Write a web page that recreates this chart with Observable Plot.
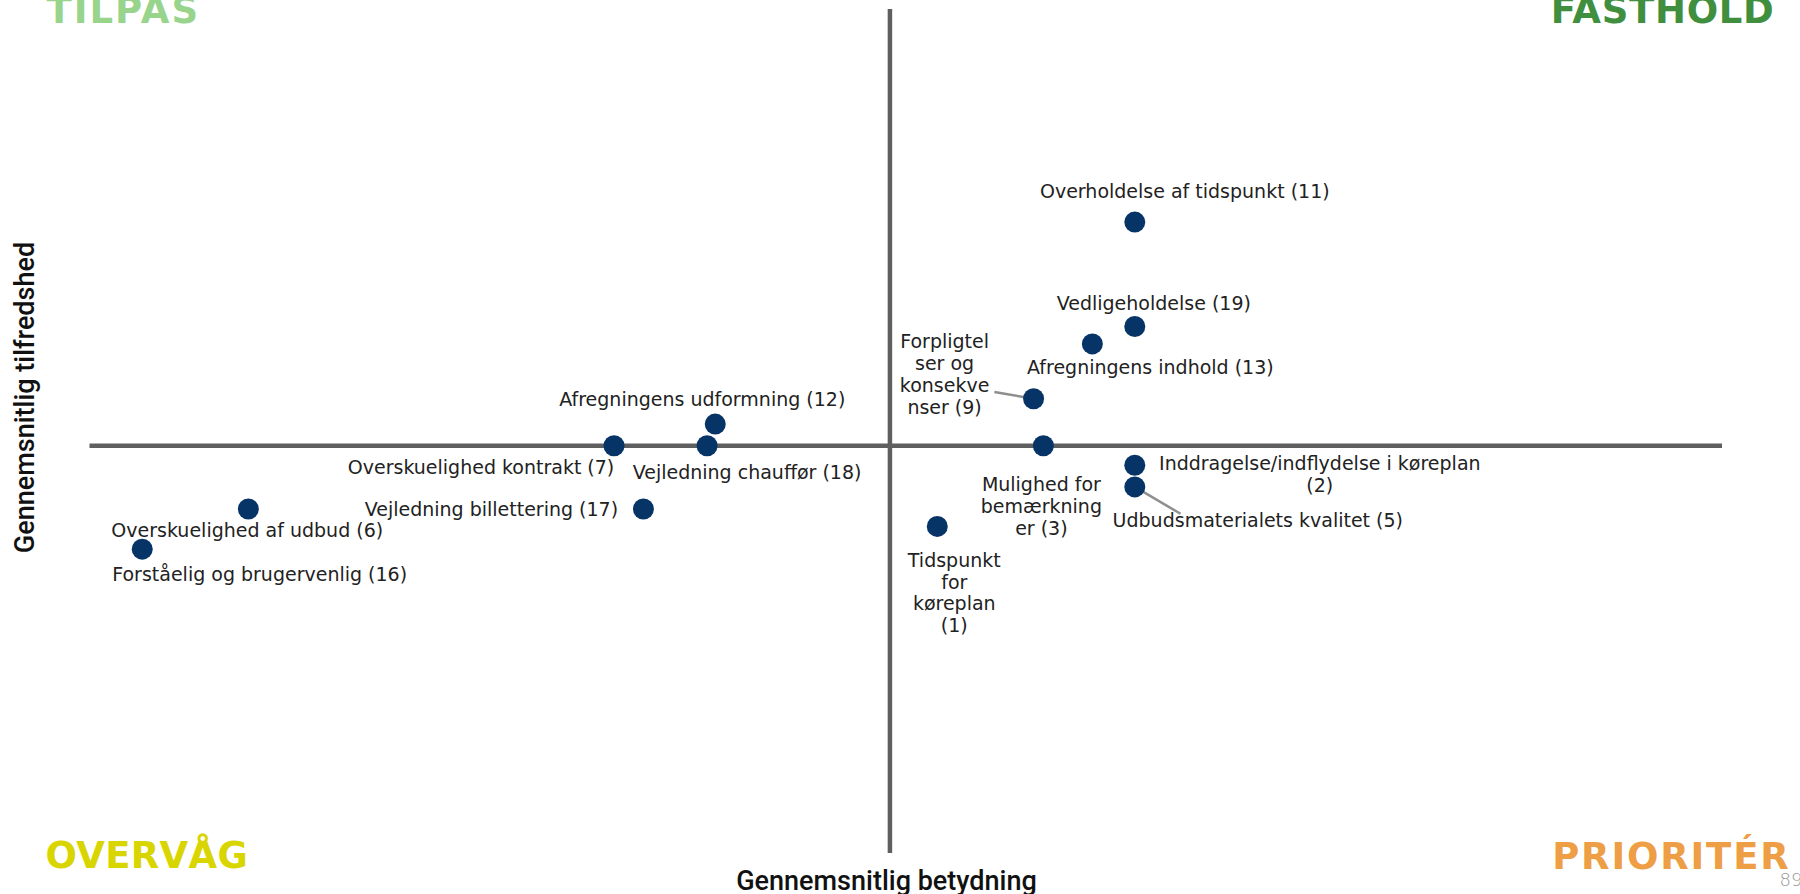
<!DOCTYPE html>
<html><head><meta charset="utf-8">
<script src="https://cdn.jsdelivr.net/npm/d3@7"></script>
<script src="https://cdn.jsdelivr.net/npm/@observablehq/plot@0.6"></script>
<style>html,body{margin:0;padding:0;background:#fff;overflow:hidden}</style>
</head><body><div id="chart"></div>
<script>
// ---- data ----
const ids = [1, 2, 3, 5, 6, 7, 9, 11, 12, 13, 16, 17, 18, 19];
const labels = [
  "Tidspunkt\nfor\nkøreplan\n(1)",
  "Inddragelse/indflydelse i køreplan\n(2)",
  "Mulighed for\nbemærkning\ner (3)",
  "Udbudsmaterialets kvalitet (5)",
  "Overskuelighed af udbud (6)",
  "Overskuelighed kontrakt (7)",
  "Forpligtel\nser og\nkonsekve\nnser (9)",
  "Overholdelse af tidspunkt (11)",
  "Afregningens udformning (12)",
  "Afregningens indhold (13)",
  "Forståelig og brugervenlig (16)",
  "Vejledning billettering (17)",
  "Vejledning chauffør (18)",
  "Vedligeholdelse (19)"
];
const importance   = [3.919, 4.040, 3.984, 4.040, 3.497, 3.721, 3.978, 4.040, 3.783, 4.014, 3.432, 3.739, 3.778, 4.040];
const satisfaction = [3.420, 3.536, 3.573, 3.495, 3.453, 3.573, 3.662, 3.997, 3.614, 3.766, 3.377, 3.453, 3.573, 3.799];
const meanImportance = [3.89];
const meanSatisfaction = [3.573];
const importanceDomain = [3.40, 4.40];
const satisfactionDomain = [2.80, 4.40];
// leader lines: from point id to label end (data units)
const leaderIds = [9, 5];
const leaderImportance = [3.954, 4.068];
const leaderSatisfaction = [3.675, 3.444];
const quadrantNames = ["TILPAS", "FASTHOLD", "OVERVÅG", "PRIORITÉR"];
const xTitle = "Gennemsnitlig betydning";
const yTitle = "Gennemsnitlig tilfredshed";
const pageNumber = "89";

// ---- layout (label offsets in px) ----
const labelLayout = {
  1: {dx: 17, dy: 66, anchor: "middle"},
  2: {dx: 185, dy: 9, anchor: "middle"},
  3: {dx: -2, dy: 60, anchor: "middle"},
  5: {dx: 123, dy: 33, anchor: "middle"},
  6: {dx: -137, dy: 21, anchor: "start"},
  7: {dx: -133, dy: 21, anchor: "middle"},
  9: {dx: -89, dy: -25, anchor: "middle"},
  11: {dx: 50, dy: -31, anchor: "middle"},
  12: {dx: -13, dy: -25, anchor: "middle"},
  13: {dx: 58, dy: 23, anchor: "middle"},
  16: {dx: -30, dy: 25, anchor: "start"},
  17: {dx: -152, dy: 0, anchor: "middle"},
  18: {dx: 40, dy: 26, anchor: "middle"},
  19: {dx: 19, dy: -24, anchor: "middle"}
};
const quadrantLayout = [
  {frameAnchor: "top-left", textAnchor: "start", dx: 46, dy: 22, fill: "#98D48C", spacing: 2},
  {frameAnchor: "top-right", textAnchor: "end", dx: -26, dy: 22, fill: "#3F8F3F", spacing: 0.7},
  {frameAnchor: "bottom-left", textAnchor: "start", dx: 45, dy: -27, fill: "#D9D500", spacing: 0.3},
  {frameAnchor: "bottom-right", textAnchor: "end", dx: -10, dy: -26, fill: "#EE9E44", spacing: 1.8}
];

const points = ids.map((id, i) => ({id, label: labels[i], x: importance[i], y: satisfaction[i]}));
const leaders = leaderIds.map((id, i) => {
  const p = points.find(d => d.id === id);
  return {x1: p.x, y1: p.y, x2: leaderImportance[i], y2: leaderSatisfaction[i]};
});

const labelFont = {fontFamily: "DejaVu Sans", fontSize: 19, fill: "#222", lineHeight: 1.15, lineAnchor: "middle"};

const marks = [
  Plot.ruleX(meanImportance, {x: d => d, y1: satisfactionDomain[0], y2: satisfactionDomain[1], stroke: "#5f5f5f", strokeWidth: 4.5}),
  Plot.ruleY(meanSatisfaction, {y: d => d, x1: importanceDomain[0], x2: importanceDomain[1], stroke: "#5f5f5f", strokeWidth: 4.5}),
  Plot.link(leaders, {x1: "x1", y1: "y1", x2: "x2", y2: "y2", stroke: "#8f8f8f", strokeWidth: 2.5}),
  Plot.dot(points, {x: "x", y: "y", r: 10.5, fill: "#073466"})
];
for (const p of points) {
  const L = labelLayout[p.id];
  marks.push(Plot.text([p], {x: "x", y: "y", text: "label", dx: L.dx, dy: L.dy, textAnchor: L.anchor, ...labelFont}));
}
quadrantNames.forEach((q, i) => {
  const Q = quadrantLayout[i];
  marks.push(Plot.text([q], {text: d => d, frameAnchor: Q.frameAnchor, textAnchor: Q.textAnchor, lineAnchor: "bottom",
    dx: Q.dx, dy: Q.dy, fill: Q.fill, fontFamily: "DejaVu Sans", fontWeight: "bold", fontSize: 37}));
});
marks.push(Plot.text([xTitle], {text: d => d, frameAnchor: "bottom", lineAnchor: "bottom", dx: -14, dy: -5,
  fontFamily: "Roboto", fontWeight: 500, fontSize: 27, fill: "#111"}));
marks.push(Plot.text([yTitle], {text: d => d, frameAnchor: "left", rotate: -90, textAnchor: "middle", lineAnchor: "middle", dx: 25, dy: -50,
  fontFamily: "Roboto", fontWeight: 500, fontSize: 27, fill: "#111"}));
marks.push(Plot.text([pageNumber], {text: d => d, frameAnchor: "bottom-right", textAnchor: "start", lineAnchor: "bottom", dx: -21, dy: -9,
  fontFamily: "DejaVu Sans", fontWeight: 300, fontSize: 18, fill: "#999"}));

const chart = Plot.plot({
  width: 1800,
  height: 894,
  margin: 0,
  x: {domain: importanceDomain, range: [89.5, 1722], axis: null},
  y: {domain: satisfactionDomain, range: [853, 9], axis: null},
  style: {background: "white", fontFamily: "DejaVu Sans"},
  marks
});
// letter spacing for the quadrant headings (the original bold face is wider)
quadrantNames.forEach((q, i) => {
  d3.select(chart).selectAll("text").filter(function () { return this.textContent === q; })
    .attr("letter-spacing", quadrantLayout[i].spacing);
});
document.getElementById("chart").appendChild(chart);
</script>
</body></html>
